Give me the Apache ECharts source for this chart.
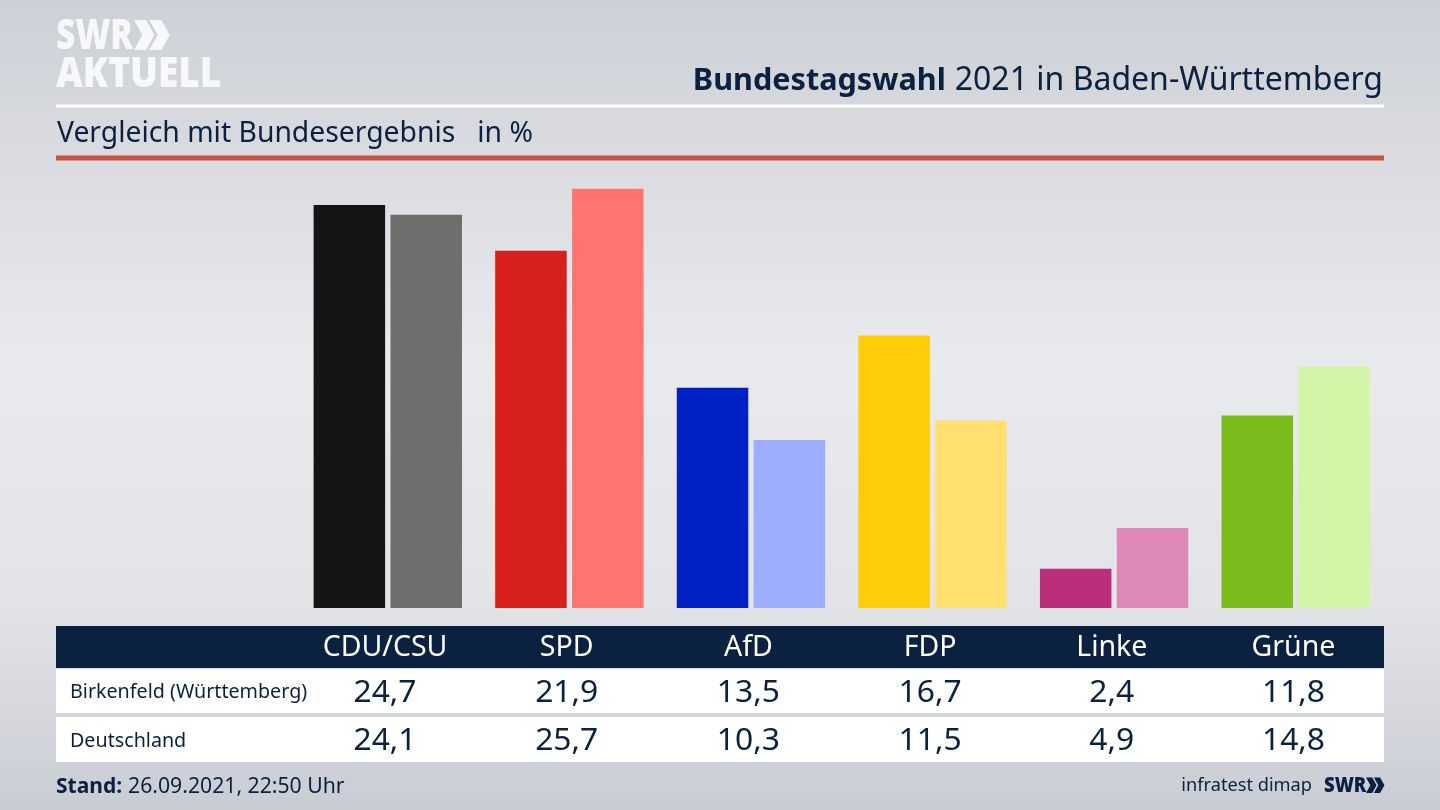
<!DOCTYPE html>
<html lang="de">
<head>
<meta charset="utf-8">
<title>Bundestagswahl 2021 in Baden-Württemberg</title>
<script src="https://cdn.jsdelivr.net/npm/echarts@6/dist/echarts.min.js"></script>
<style>
  html, body { margin: 0; padding: 0; background: #d8dade; }
  #chart { width: 1440px; height: 810px; }
</style>
</head>
<body>
<div id="chart"></div>
<script>
const parties = ["CDU/CSU", "SPD", "AfD", "FDP", "Linke", "Grüne"];
const rowNames = ["Birkenfeld (Württemberg)", "Deutschland"];
const birkenfeld = [24.7, 21.9, 13.5, 16.7, 2.4, 11.8];
const deutschland = [24.1, 25.7, 10.3, 11.5, 4.9, 14.8];

const darkColors = ["#141414", "#d71f1d", "#0021c4", "#ffcc0a", "#bb2f7a", "#79bc1c"];
const lightColors = ["#6f6e6c", "#ff7370", "#9dadff", "#ffe070", "#de88b6", "#d3f5a8"];

const NAVY = "#0b2140";
const FONT = '"Noto Sans", sans-serif';

const fmt = (v) => v.toFixed(1).replace(".", ",");

function text(x, y, str, size, opts = {}) {
  return {
    type: "text",
    x, y,
    z: 10,
    scaleX: opts.scaleX || 1,
    style: {
      text: str,
      font: `${opts.weight || "normal"} ${size}px ${FONT}`,
      fill: opts.fill || NAVY,
      align: opts.align || "left",
      verticalAlign: "middle",
    },
  };
}

function rect(x, y, width, height, fill) {
  return { type: "rect", z: 5, shape: { x, y, width, height }, style: { fill } };
}

// double chevron of the SWR logo
function chevrons(x, y, h, fill) {
  const w = h * 0.68, t = h * 0.4;
  const one = (ox) => ({
    type: "polygon",
    z: 10,
    shape: { points: [[ox, y], [ox + t, y], [ox + w, y + h / 2], [ox + t, y + h], [ox, y + h], [ox + w - t, y + h / 2]] },
    style: { fill },
  });
  return [one(x), one(x + w * 0.75)];
}

const COL_X = 385, COL_STEP = 181.7;
const table = [];
parties.forEach((p, i) => {
  const x = COL_X + i * COL_STEP;
  table.push(text(x, 648, p, 28.5, { fill: "#fff", align: "center" }));
  table.push(text(x, 693, fmt(birkenfeld[i]), 31.8, { align: "center" }));
  table.push(text(x, 741, fmt(deutschland[i]), 31.8, { align: "center" }));
});

const chart = echarts.init(document.getElementById("chart"));
chart.setOption({
  animation: false,
  backgroundColor: new echarts.graphic.LinearGradient(0, 0, 0, 1, [
    { offset: 0, color: "#cdd0d6" },
    { offset: 0.45, color: "#e9eaee" },
    { offset: 0.75, color: "#e2e3e7" },
    { offset: 1, color: "#c9ccd3" },
  ]),
  grid: { left: 297, width: 1089.5, top: 167.5, bottom: 202 },
  xAxis: {
    type: "category",
    data: parties,
    axisLine: { show: false },
    axisTick: { show: false },
    axisLabel: { show: false },
  },
  yAxis: { type: "value", min: 0, max: 27, show: false },
  series: [
    {
      name: rowNames[0],
      type: "bar",
      barWidth: 71.5,
      barGap: "7.5%",
      data: birkenfeld.map((value, i) => ({ value, itemStyle: { color: darkColors[i] } })),
    },
    {
      name: rowNames[1],
      type: "bar",
      barWidth: 71.5,
      data: deutschland.map((value, i) => ({ value, itemStyle: { color: lightColors[i] } })),
    },
  ],
  graphic: [
    // logo
    text(56, 37, "SWR", 42, { weight: "900", fill: "#f7f8f9", scaleX: 0.8 }),
    ...chevrons(134, 20, 30, "#f7f8f9"),
    text(56, 75, "AKTUELL", 42, { weight: "900", fill: "#f7f8f9", scaleX: 0.88 }),

    // header
    {
      type: "text",
      x: 1383, y: 81, z: 10,
      style: {
        text: "{b|Bundestagswahl}{s| }{n|2021 in Baden-Württemberg}",
        align: "right",
        verticalAlign: "middle",
        rich: {
          b: { font: `bold 30.6px ${FONT}`, fill: NAVY },
          s: { font: `normal 20px ${FONT}`, fill: NAVY, width: 9 },
          n: { font: `normal 32px ${FONT}`, fill: NAVY },
        },
      },
    },
    rect(56, 104.5, 1328, 3, "#ffffff"),
    text(57, 134, "Vergleich mit Bundesergebnis   in %", 28.3),
    rect(56, 155.5, 1328, 5, "#c8503f"),

    // table
    rect(56, 626, 1328, 42, NAVY),
    rect(56, 669, 1328, 44, "#ffffff"),
    rect(56, 717, 1328, 45, "#ffffff"),
    text(70, 692, rowNames[0], 19.7),
    text(70, 741, rowNames[1], 19.7),
    ...table,

    // footer
    {
      type: "text",
      x: 56, y: 787, z: 10,
      style: {
        text: "{b|Stand:}{s| }{n|26.09.2021, 22:50 Uhr}",
        verticalAlign: "middle",
        rich: {
          b: { font: `bold 21px ${FONT}`, fill: NAVY },
          s: { font: `normal 12px ${FONT}`, fill: NAVY, width: 6 },
          n: { font: `normal 21.2px ${FONT}`, fill: NAVY },
        },
      },
    },
    text(1312, 786, "infratest dimap", 18.2, { align: "right" }),
    text(1324, 786, "SWR", 21, { weight: "900", scaleX: 0.88 }),
    ...chevrons(1366, 777.5, 15.5, NAVY),
  ],
});
</script>
</body>
</html>
